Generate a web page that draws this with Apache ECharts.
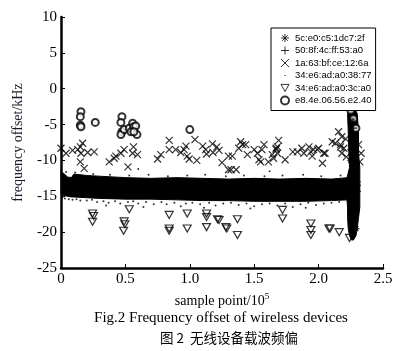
<!DOCTYPE html>
<html>
<head>
<meta charset="utf-8">
<script src="https://cdn.jsdelivr.net/npm/echarts@6/dist/echarts.min.js"></script>
<style>
  html, body { margin: 0; padding: 0; background: #fff; }
  #chart { width: 400px; height: 351px; }
</style>
</head>
<body>
<div id="chart"></div>
<script>
// 设备名称 (图例)
const devNames = ['5c:e0:c5:1dc7:2f', '50:8f:4c:ff:53:a0', '1a:63:bf:ce:12:6a',
                  '34:e6:ad:a0:38:77', '34:e6:ad:a0:3c:a0', 'e8.4e.06.56.e2.40'];

// 坐标轴刻度
const xTicks = [0, 0.5, 1.0, 1.5, 2.0, 2.5];
const yTicks = [-25, -20, -15, -10, -5, 0, 5, 10];

// 34:e6:ad:a0:38:77 密集带 上下边界
const bandX     = [0, 0.02, 0.05, 0.08, 0.1, 0.2, 0.3, 0.5, 0.7, 0.9, 1.1, 1.3, 1.5, 1.7, 1.9, 2.1, 2.23];
const bandUpper = [-11.6, -11.8, -12.3, -12.4, -11.9, -12.1, -12.2, -12.4, -12.5, -12.4, -12.5, -12.6, -12.5, -12.6, -12.5, -12.6, -12.4];
const bandLower = [-14.7, -14.9, -15.0, -15.1, -15.1, -15.2, -15.3, -15.4, -15.4, -15.5, -15.6, -15.6, -15.7, -15.7, -15.7, -15.6, -15.5];

// 右侧 x≈2.25 竖条 左右边界
const stripY     = [-2.9, -3.5, -6, -9, -11, -12.5, -15.5, -16.5, -18, -19.5, -20.5, -21.1];
const stripLeft  = [2.235, 2.225, 2.23, 2.235, 2.24, 2.22, 2.22, 2.225, 2.225, 2.23, 2.24, 2.255];
const stripRight = [2.285, 2.30, 2.31, 2.31, 2.32, 2.32, 2.32, 2.32, 2.31, 2.30, 2.29, 2.27];

// 散点
const asteriskPts = [[2.26, -4.5], [2.28, -7.5], [2.25, -10], [2.3, -13], [2.27, -17], [2.29, -19.5]];
const plusPts = [[2.27, -5.5], [2.25, -8.5], [2.29, -11.5], [2.26, -14], [2.28, -18]];
const crossPts = [
  [0, -8.3], [0.039, -9.0], [0.09, -8.6], [0.13, -8.5], [0.15, -8.1], [0.168, -7.6], [0.155, -9.0],
  [0.15, -10.2], [0.18, -11.1], [0.207, -8.9], [0.258, -8.8], [0.374, -10.2], [0.413, -9.7],
  [0.426, -9.4], [0.465, -9.0], [0.49, -8.5], [0.52, -10.9], [0.556, -9.0], [0.563, -8.1],
  [0.594, -9.2], [0.75, -9.8], [0.775, -9.2], [0.84, -8.5], [0.84, -7.2], [0.89, -8.5],
  [0.93, -8.9], [0.956, -8.5], [0.97, -8.0], [0.98, -9.4], [0.995, -9.8], [1.04, -7.1],
  [1.054, -10.0], [1.10, -8.0], [1.124, -8.5], [1.13, -9.1], [1.176, -7.7], [1.18, -8.9],
  [1.21, -8.1], [1.227, -8.6], [1.25, -10.3], [1.30, -11.3], [1.30, -9.4], [1.33, -9.4],
  [1.32, -11.3], [1.36, -11.3], [1.395, -7.4], [1.41, -7.8], [1.434, -7.8], [1.38, -8.3],
  [1.447, -9.2], [1.50, -8.5], [1.525, -9.0], [1.537, -9.9], [1.55, -10.2], [1.576, -7.8],
  [1.56, -8.5], [1.61, -10.2], [1.65, -9.7], [1.67, -8.5], [1.68, -8.1], [1.69, -7.2],
  [1.67, -8.3], [1.64, -9.2], [1.68, -9.0], [1.74, -9.9], [1.80, -8.8], [1.835, -8.8],
  [1.87, -8.3], [1.886, -9.0], [1.925, -8.1], [1.94, -8.8], [1.95, -9.4], [1.96, -8.5],
  [1.99, -8.5], [2.0, -8.3], [2.04, -9.0], [2.05, -9.0], [2.03, -10.4], [2.106, -7.4],
  [2.13, -7.6], [2.17, -7.8], [2.18, -9.0], [2.196, -8.3], [2.155, -6.0], [2.18, -6.7],
  [2.17, -8.1], [2.26, -9.7], [2.27, -10.6], [2.29, -11.6], [2.3, -13.9], [2.33, -9.0],
  [2.21, -7.0], [2.215, -9.5], [2.32, -10.2], [2.31, -7.8]
];
const dotPts = [
  [0.01, -15.2], [0.03, -15.3], [0.06, -15.4], [0.09, -15.5], [0.12, -15.4], [0.15, -15.6],
  [0.2, -15.6], [0.24, -15.5], [0.28, -15.8], [0.33, -15.7], [0.37, -15.9], [0.42, -15.7],
  [0.46, -16.0], [0.52, -15.8], [0.56, -15.7], [0.6, -16.0], [0.66, -15.8], [0.72, -16.1],
  [0.78, -15.8], [0.82, -16.1], [0.88, -15.9], [0.93, -16.4], [0.97, -16.0], [1.02, -15.9],
  [1.08, -16.1], [1.15, -15.9], [1.2, -16.3], [1.26, -16.0], [1.32, -15.9], [1.38, -16.2],
  [1.44, -16.0], [1.5, -16.4], [1.56, -16.1], [1.62, -16.0], [1.68, -16.3], [1.74, -16.0],
  [1.8, -16.5], [1.86, -16.1], [1.92, -15.9], [1.98, -16.2], [2.04, -16.0], [2.1, -15.9],
  [2.16, -15.8], [0.35, -16.3], [0.64, -16.5], [1.11, -16.6], [1.47, -16.7], [1.9, -16.6],
  [0.0, -11.4], [0.04, -11.6], [0.11, -11.7], [0.25, -11.9], [0.38, -12.0],
  [0.53, -12.1], [0.68, -12.0], [0.83, -12.2], [0.98, -12.1], [1.12, -12.0],
  [1.28, -12.2], [1.42, -12.1], [1.58, -12.2], [1.72, -12.1], [1.88, -12.0],
  [2.02, -12.2], [2.17, -12.1], [0.6, -11.2], [1.62, -11.5]
];
const trianglePts = [
  [0.245, -17.4], [0.253, -17.75], [0.245, -18.55], [0.53, -16.8], [0.49, -18.5], [0.496, -18.9],
  [0.486, -19.8], [0.84, -17.6], [0.84, -19.5], [0.84, -19.8], [0.98, -17.4], [0.98, -19.5],
  [1.13, -17.4], [1.13, -17.9], [1.13, -19.3], [1.215, -18.2], [1.28, -19.3], [1.227, -18.3],
  [1.287, -19.5], [1.37, -18.2], [1.37, -20.4], [1.72, -16.9], [1.72, -18.1], [1.94, -18.8],
  [1.94, -19.7], [1.94, -20.4], [2.08, -19.5], [2.09, -19.5], [2.16, -20.0], [2.26, -16.7],
  [2.24, -20.8]
];
const circlePts = [
  [0.155, -3.2], [0.15, -3.9], [0.15, -5.1], [0.155, -5.3], [0.266, -4.7], [0.473, -3.9],
  [0.465, -4.7], [0.473, -6.0], [0.465, -6.4], [0.49, -5.7], [0.53, -5.5], [0.556, -4.8],
  [0.563, -5.3], [0.58, -5.2], [0.59, -6.4], [0.543, -6.0], [0.566, -6.0], [1.0, -5.7],
  [2.25, -3.0], [2.27, -4.2], [2.29, -5.5]
];

// 符号
const symAsterisk = 'path://M5 0 L5 10 M0 5 L10 5 M1.5 1.5 L8.5 8.5 M8.5 1.5 L1.5 8.5';
const symPlus     = 'path://M5 0 L5 10 M0 5 L10 5';
const symCross    = 'path://M0 0 L10 10 M10 0 L0 10';
const symDot      = 'path://M0 0 M10 10 M4.3 4.3 L5.7 4.3 L5.7 5.7 L4.3 5.7 Z';
const symTri      = 'path://M0 0 L10 0 L5 9 Z';

const serif = '"Liberation Serif", "Times New Roman", serif';
const strokeStyle = { color: 'transparent', borderColor: '#000', borderWidth: 1.2 };
const legStroke   = { color: 'transparent', borderColor: '#000', borderWidth: 1 };

let chart = echarts.init(document.getElementById('chart'));

// 多边形 (密集带 / 竖条)
function polyItem(params, api, pts) {
    return {
        type: 'polygon',
        shape: { points: pts.map(p => api.coord(p)) },
        style: { fill: '#000', stroke: '#000', lineWidth: 1 }
    };
}

let option = {
    animation: false,
    textStyle: { fontFamily: serif },
    title: [
        { text: 'Fig.2 Frequency offset of wireless devices', left: 216, textAlign: 'center', top: 306,
          textStyle: { fontFamily: serif, fontSize: 15, fontWeight: 'normal', color: '#000' } },
        { text: '图 2  无线设备载波频偏', left: 224, textAlign: 'center', top: 326,
          textStyle: { fontFamily: '"Noto Sans CJK SC", sans-serif', fontSize: 13.5, fontWeight: 'normal', color: '#000' } }
    ],
    grid: { left: 61, right: 17, top: 17, bottom: 83 },
    legend: {
        orient: 'vertical',
        left: 271, top: 28,
        padding: [5, 4, 5, 9],
        itemGap: 2.5,
        itemWidth: 8, itemHeight: 10,
        backgroundColor: '#fff',
        borderColor: '#000', borderWidth: 1,
        textStyle: { fontFamily: '"Liberation Sans", Arial, sans-serif', fontSize: 9.5, color: '#000', padding: [0, 0, 0, 1] },
        data: [
            { name: devNames[0], icon: symAsterisk, itemStyle: legStroke },
            { name: devNames[1], icon: symPlus, itemStyle: legStroke },
            { name: devNames[2], icon: symCross, itemStyle: legStroke },
            { name: devNames[3], icon: symDot, itemStyle: { color: '#000', borderWidth: 0 } },
            { name: devNames[4], icon: symTri, itemStyle: legStroke },
            { name: devNames[5], icon: 'emptyCircle', itemStyle: { color: '#000', borderWidth: 1 } }
        ]
    },
    xAxis: {
        type: 'value', min: 0, max: 2.5, interval: 0.5,
        name: '{a|sample point/10}{b|5}',
        nameLocation: 'middle', nameGap: 24,
        nameTextStyle: {
            rich: {
                a: { fontFamily: serif, fontSize: 14, color: '#000' },
                b: { fontFamily: serif, fontSize: 9, color: '#000', padding: [0, 0, 9, 0] }
            }
        },
        axisLine: { onZero: false, lineStyle: { color: '#000', width: 2.5 } },
        axisTick: { inside: true, length: 4, lineStyle: { color: '#000', width: 1 } },
        axisLabel: { fontFamily: serif, fontSize: 15, color: '#000', margin: 4,
                     formatter: v => xTicks.indexOf(v) === 0 ? '0' : v.toFixed(1) },
        splitLine: { show: false }
    },
    yAxis: {
        type: 'value', min: yTicks[0], max: yTicks[yTicks.length - 1], interval: 5,
        name: 'frequency offset/kHz',
        nameLocation: 'middle', nameGap: 36,
        nameTextStyle: { fontFamily: serif, fontSize: 14, color: '#1a1a2a' },
        axisLine: { show: true, onZero: false, lineStyle: { color: '#000', width: 2.5 } },
        axisTick: { show: true, inside: true, length: 4, lineStyle: { color: '#000', width: 1 } },
        axisLabel: { fontFamily: serif, fontSize: 15, color: '#000', margin: 4 },
        splitLine: { show: false }
    },
    series: [
        {
            name: 'band', type: 'custom', z: 1, silent: true,
            data: [[0, 0]],
            renderItem: (params, api) => {
                let pts = bandX.map((x, i) => [x, bandUpper[i]])
                    .concat(bandX.map((x, i) => [x, bandLower[i]]).reverse());
                return polyItem(params, api, pts);
            }
        },
        {
            name: 'strip', type: 'custom', z: 1, silent: true,
            data: [[0, 0]],
            renderItem: (params, api) => {
                let pts = stripY.map((y, i) => [stripLeft[i], y])
                    .concat(stripY.map((y, i) => [stripRight[i], y]).reverse());
                return polyItem(params, api, pts);
            }
        },
        { name: devNames[3], type: 'scatter', z: 2, data: dotPts, symbol: 'circle', symbolSize: 2,
          itemStyle: { color: '#000' } },
        { name: devNames[2], type: 'scatter', z: 3, data: crossPts, symbol: symCross, symbolSize: 7,
          itemStyle: strokeStyle },
        { name: devNames[4], type: 'scatter', z: 3, data: trianglePts, symbol: symTri, symbolSize: [8, 7],
          itemStyle: strokeStyle },
        { name: devNames[5], type: 'scatter', z: 3, data: circlePts, symbol: 'emptyCircle', symbolSize: 7,
          itemStyle: { color: '#000', borderWidth: 1.2 } },
        { name: devNames[0], type: 'scatter', z: 3, data: asteriskPts, symbol: symAsterisk, symbolSize: 7,
          itemStyle: strokeStyle },
        { name: devNames[1], type: 'scatter', z: 3, data: plusPts, symbol: symPlus, symbolSize: 7,
          itemStyle: strokeStyle }
    ]
};
chart.setOption(option);
</script>
</body>
</html>
